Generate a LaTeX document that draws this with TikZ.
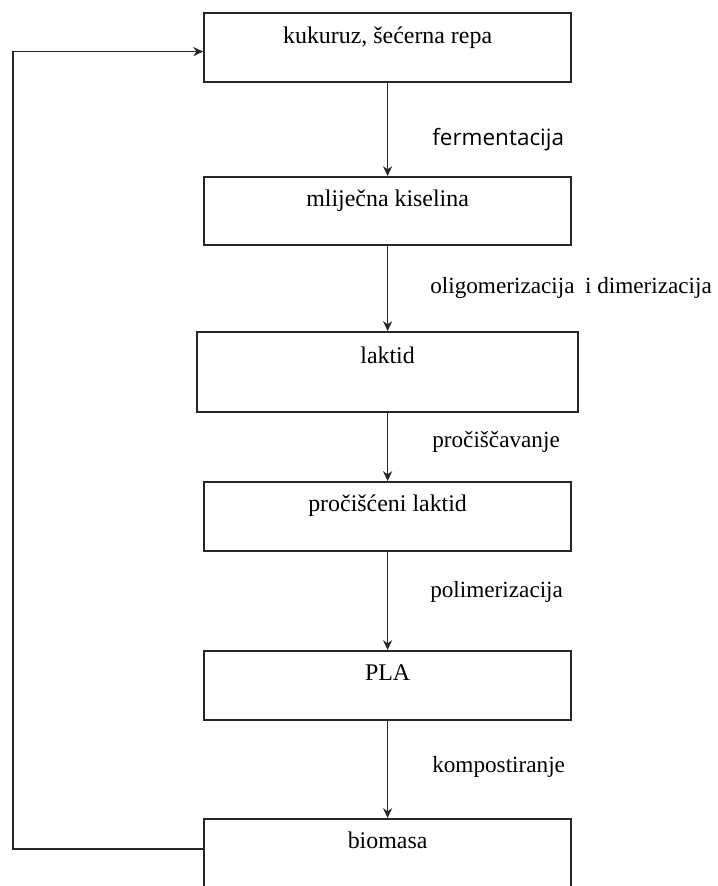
\documentclass[tikz,border=0pt]{standalone}
\usepackage{fontspec}
\setmainfont{Liberation Serif}
\newfontfamily\labelsans{Open Sans}
\usetikzlibrary{arrows.meta,positioning}

\begin{document}
\begin{tikzpicture}[
    stage/.style={rectangle, draw=black!85, line width=1.4pt, minimum width=9.175cm, inner sep=0pt, text height=0.75cm, font=\fontsize{17}{20}\selectfont},
    steplabel/.style={anchor=base west, inner sep=0pt, font=\fontsize{16.5}{19}\selectfont},
    flow/.style={line width=1.1pt, draw=black!85, ->, >={Stealth[length=7pt,width=6.5pt]}}
]
    \useasboundingbox (0,0) rectangle (17.925,22.15);
    \clip (0,0) rectangle (17.925,22.15);

    % Faze
    \node[stage, text depth=0.975cm] (kuk) at (9.69,20.96) {kukuruz, šećerna repa};
    \node[stage, text depth=0.95cm] (mk) at (9.69,16.875) {mliječna kiselina};
    \node[stage, minimum width=9.525cm, text height=0.8cm, text depth=1.2cm] (lak) at (9.69,12.85) {laktid};
    \node[stage, text depth=0.975cm] (plak) at (9.69,9.2375) {pročišćeni laktid};
    \node[stage, text depth=0.975cm] (pla) at (9.69,5.0125) {PLA};
    \node[stage, text depth=1.25cm] (bio) at (9.69,0.675) {biomasa};

    % Procesi
    \node[steplabel, font=\labelsans\fontsize{16}{19}\selectfont] (ferm) at (10.8,18.5) {fermentacija};
    \node[steplabel] (olig) at (10.75,14.8) {oligomerizacija\hspace{0.45em}i dimerizacija};
    \node[steplabel] (proc) at (10.8,10.95) {pročiščavanje};
    \node[steplabel] (poli) at (10.75,7.2) {polimerizacija};
    \node[steplabel] (komp) at (10.8,2.825) {kompostiranje};

    % Strelice
    \draw[flow] (kuk) -- (mk);
    \draw[flow] (mk) -- (lak);
    \draw[flow] (lak) -- (plak);
    \draw[flow] (plak) -- (pla);
    \draw[flow] (pla) -- (bio);
    \draw[flow] ([yshift=-0.775cm]bio.north west) -- ++(-4.75,0) |- ([yshift=-0.1cm]kuk.west);

\end{tikzpicture}
\end{document}
